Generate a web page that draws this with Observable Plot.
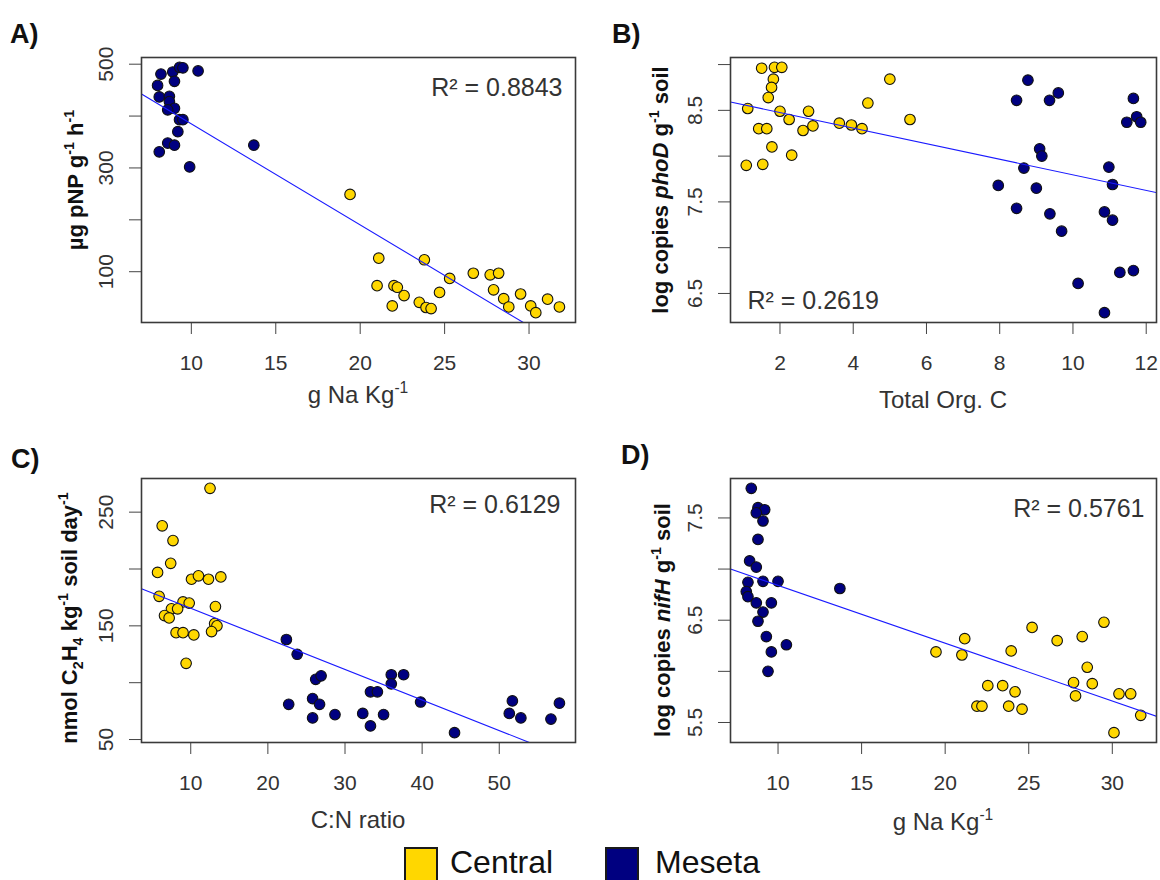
<!DOCTYPE html>
<html>
<head>
<meta charset="utf-8">
<script src="https://cdn.jsdelivr.net/npm/d3@7"></script>
<script src="https://cdn.jsdelivr.net/npm/@observablehq/plot@0.6"></script>
<style>
  body { margin: 0; background: #fff; }
  #wrap { position: relative; width: 1160px; height: 880px; overflow: hidden; background: #fff;
          font-family: "Liberation Sans", Arial, sans-serif; }
  .panel { position: absolute; }
  .swatch { position: absolute; box-sizing: border-box; border: 2px solid #1a1a1a; }
  .legtext { position: absolute; font-size: 32px; line-height: 32px; color: #111; }
</style>
</head>
<body>
<div id="wrap"></div>
<script>
// ---------- groups ----------
const groups = ["Central", "Meseta"];
const groupColors = ["#FFD700", "#000080"];

// ---------- Panel A: g Na Kg-1 vs µg pNP g-1 h-1 ----------
const aCentralX = [19.4, 21.1, 23.8, 25.3, 26.7, 27.7, 28.2, 27.9, 28.5, 28.8, 29.5, 21.0, 22.0, 22.2, 22.6, 21.9, 23.5, 23.9, 24.2, 24.7, 30.1, 30.4, 31.1, 31.8];
const aCentralY = [249, 126, 123, 87, 97, 94, 97, 65, 48, 32, 57, 73, 73, 70, 54, 34, 41, 31, 29, 60, 34, 21, 47, 32];
const aMesetaX = [8.2, 8.9, 9.3, 9.5, 10.4, 9.0, 8.0, 8.1, 8.7, 8.7, 9.0, 8.6, 9.3, 9.5, 9.2, 8.6, 9.0, 8.1, 9.9, 13.7];
const aMesetaY = [481, 485, 494, 493, 487, 467, 459, 437, 438, 428, 415, 412, 393, 393, 370, 348, 344, 331, 302, 344];
const aFit = [579.6, -19.47];   // intercept, slope
const aR2 = "0.8843";

// ---------- Panel B: Total Org. C vs log copies phoD ----------
const bCentralX = [1.5, 1.85, 2.05, 1.82, 1.77, 1.68, 1.12, 2.0, 2.25, 2.78, 1.42, 1.64, 2.63, 2.9, 3.62, 3.95, 4.24, 4.4, 5.0, 5.55, 1.78, 2.32, 1.08, 1.53];
const bCentralY = [8.96, 8.97, 8.97, 8.84, 8.75, 8.64, 8.52, 8.49, 8.40, 8.49, 8.30, 8.30, 8.28, 8.33, 8.36, 8.34, 8.30, 8.58, 8.84, 8.40, 8.10, 8.01, 7.90, 7.91];
const bMesetaX = [8.77, 8.46, 9.36, 9.6, 9.09, 9.15, 8.66, 7.96, 9.0, 8.46, 9.37, 9.69, 10.14, 10.98, 11.08, 10.86, 11.08, 10.86, 11.28, 11.65, 11.47, 11.65, 11.74, 11.85];
const bMesetaY = [8.83, 8.61, 8.61, 8.69, 8.08, 8.0, 7.87, 7.68, 7.65, 7.43, 7.37, 7.18, 6.61, 7.88, 7.69, 7.39, 7.30, 6.29, 6.73, 6.75, 8.37, 8.63, 8.43, 8.37];
const bFit = [8.646, -0.085];
const bR2 = "0.2619";

// ---------- Panel C: C:N ratio vs nmol C2H4 ----------
const cCentralX = [12.5, 6.3, 7.7, 7.4, 5.7, 10.1, 11.0, 12.3, 13.9, 5.9, 9.0, 9.8, 13.2, 7.5, 8.3, 6.6, 7.2, 13.1, 13.4, 8.1, 9.0, 10.4, 12.7, 9.4];
const cCentralY = [271, 238, 225, 205, 197, 191, 194, 191, 193, 176, 171, 170, 167, 165, 165, 159, 157, 152, 150, 144, 144, 142, 145, 117];
const cMesetaX = [22.4, 23.8, 22.7, 26.2, 26.9, 25.8, 26.7, 25.8, 28.7, 32.3, 33.3, 34.2, 33.3, 35.0, 36.0, 36.0, 37.6, 39.8, 44.2, 51.7, 51.3, 52.8, 57.8, 56.7];
const cMesetaY = [138, 125, 81, 103, 106, 86, 81, 69, 72, 73, 92, 92, 62, 72, 107, 99, 107, 83, 56, 84, 73, 69, 82, 68];
const cFit = [192.3, -2.688];
const cR2 = "0.6129";

// ---------- Panel D: g Na Kg-1 vs log copies nifH ----------
const dCentralX = [19.45, 21.17, 21.0, 25.2, 26.7, 28.2, 29.5, 23.95, 28.5, 27.68, 28.8, 27.8, 22.55, 23.44, 24.18, 21.9, 22.2, 23.8, 24.6, 30.4, 31.1, 31.7, 30.1];
const dCentralY = [6.19, 6.32, 6.16, 6.43, 6.30, 6.34, 6.48, 6.20, 6.04, 5.89, 5.88, 5.76, 5.86, 5.86, 5.80, 5.66, 5.66, 5.66, 5.63, 5.78, 5.78, 5.57, 5.40];
const dMesetaX = [8.4, 8.8, 9.2, 8.7, 9.1, 8.8, 8.3, 8.7, 8.2, 9.1, 10.0, 8.1, 8.2, 8.7, 9.6, 9.1, 8.8, 9.3, 10.5, 9.6, 9.4, 13.7];
const dMesetaY = [7.79, 7.60, 7.58, 7.55, 7.47, 7.29, 7.08, 7.02, 6.87, 6.88, 6.88, 6.78, 6.73, 6.67, 6.67, 6.58, 6.49, 6.34, 6.26, 6.19, 6.0, 6.81];
const dFit = [7.405, -0.0565];
const dR2 = "0.5761";

// ---------- tick values ----------
const naTicks = [10, 15, 20, 25, 30];
const tocTicks = [2, 4, 6, 8, 10, 12];
const cnTicks = [10, 20, 30, 40, 50];
const pnpTicks = [100, 200, 300, 400, 500];
const pnpLabels = ["100", "300", "500"];
const phoDTicks = [6.5, 7.0, 7.5, 8.0, 8.5, 9.0];
const phoDLabels = ["6.5", "7.5", "8.5"];
const c2h4Ticks = [50, 100, 150, 200, 250];
const c2h4Labels = ["50", "150", "250"];
const nifHTicks = [5.5, 6.0, 6.5, 7.0, 7.5];
const nifHLabels = ["5.5", "6.5", "7.5"];

const FONT = '"Liberation Sans", Arial, sans-serif';

function padDomain(vals) {
  const [a, b] = d3.extent(vals);
  const p = (b - a) * 0.04;
  return [a - p, b + p];
}

function rich(textSel, parts, size) {
  let shift = 0;
  parts.forEach(p => {
    const target = p.sup ? -0.42 * size : p.sub ? 0.28 * size : 0;
    const t = textSel.append("tspan").text(p.t).attr("dy", target - shift);
    if (p.sup || p.sub) t.attr("font-size", size * 0.65);
    if (p.it) t.attr("font-style", "italic");
    shift = target;
  });
}

function makePanel(cfg) {
  const rows = [];
  groups.forEach((g, i) => {
    cfg.xs[i].forEach((xv, j) => rows.push({group: g, x: xv, y: cfg.ys[i][j]}));
  });
  const xd = padDomain(rows.map(d => d.x));
  const yd = padDomain(rows.map(d => d.y));
  const fitLine = xd.map(x => ({x, y: cfg.fit[0] + cfg.fit[1] * x}));

  const svg = Plot.plot({
    width: 580,
    height: cfg.height,
    marginLeft: cfg.ml, marginRight: cfg.mr, marginTop: cfg.mt, marginBottom: cfg.height - cfg.frameBottom,
    style: {fontFamily: FONT, fontSize: "21px", color: "#333", background: "transparent", overflow: "visible"},
    x: {domain: xd},
    y: {domain: yd},
    color: {domain: groups, range: groupColors},
    marks: [
      Plot.axisX({ticks: cfg.xTicks, tickSize: 12, tickPadding: 21, label: null, stroke: "#444", fill: "#333", fontSize: 21}),
      Plot.axisY({ticks: cfg.yTicks, tickSize: 12, tickFormat: () => "", label: null, stroke: "#444"}),
      Plot.text(cfg.yLabels, {
        y: d => +d, text: d => d, frameAnchor: "left", dx: -29, rotate: -90,
        textAnchor: "middle", lineAnchor: "bottom", fontSize: 21, fill: "#333"
      }),
      Plot.dot(rows, {x: "x", y: "y", fill: "group", r: 5.3, stroke: "#111", strokeWidth: 1.1}),
      Plot.line(fitLine, {x: "x", y: "y", stroke: "#1a1aff", strokeWidth: 1.1, clip: true}),
      Plot.frame({stroke: "#3a3a3a", strokeWidth: 1.6}),
      Plot.text([cfg.r2], {
        frameAnchor: cfg.r2Anchor, dx: cfg.r2dx, dy: cfg.r2dy,
        text: d => "R² = " + d, fontSize: 25, fill: "#333",
        textAnchor: cfg.r2TextAnchor, lineAnchor: "middle"
      })
    ]
  });

  const s = d3.select(svg);
  // panel letter
  s.append("text").attr("x", cfg.letterX).attr("y", cfg.letterY)
    .attr("text-anchor", "start")
    .attr("font-family", FONT).attr("font-weight", "bold").attr("font-size", 27).attr("fill", "#111")
    .text(cfg.letter);
  // x title
  const xt = s.append("text").attr("x", (cfg.ml + 580 - cfg.mr) / 2).attr("y", cfg.xTitleY)
    .attr("text-anchor", "middle").attr("font-family", FONT).attr("font-size", 24).attr("fill", "#333");
  rich(xt, cfg.xTitle, 24);
  // y title
  const yt = s.append("text").attr("transform", `translate(${cfg.yTitleX},${cfg.yTitleC}) rotate(-90)`)
    .attr("text-anchor", "middle").attr("font-family", FONT).attr("font-weight", "bold")
    .attr("font-size", 22).attr("fill", "#111");
  rich(yt, cfg.yTitle, 22);

  const div = document.createElement("div");
  div.className = "panel";
  div.style.left = cfg.left + "px";
  div.style.top = cfg.top + "px";
  div.appendChild(svg);
  document.getElementById("wrap").appendChild(div);
}

const naTitle = [{t: "g Na Kg"}, {t: "-1", sup: true}];

makePanel({
  left: 0, top: 0, height: 440, ml: 141, mr: 5, mt: 57, frameBottom: 322,
  xs: [aCentralX, aMesetaX], ys: [aCentralY, aMesetaY], fit: aFit,
  xTicks: naTicks, yTicks: pnpTicks, yLabels: pnpLabels,
  r2: aR2, r2Anchor: "top-right", r2dx: -13, r2dy: 30, r2TextAnchor: "end",
  letter: "A)", letterX: 10, letterY: 43,
  xTitle: naTitle, xTitleY: 403,
  yTitle: [{t: "µg pNP g"}, {t: "-1", sup: true}, {t: " h"}, {t: "-1", sup: true}], yTitleX: 83, yTitleC: 180
});

makePanel({
  left: 580, top: 0, height: 440, ml: 150, mr: 4, mt: 57, frameBottom: 322,
  xs: [bCentralX, bMesetaX], ys: [bCentralY, bMesetaY], fit: bFit,
  xTicks: tocTicks, yTicks: phoDTicks, yLabels: phoDLabels,
  r2: bR2, r2Anchor: "bottom-left", r2dx: 17, r2dy: -22, r2TextAnchor: "start",
  letter: "B)", letterX: 32, letterY: 43,
  xTitle: [{t: "Total Org. C"}], xTitleY: 408,
  yTitle: [{t: "log copies "}, {t: "phoD", it: true}, {t: " g"}, {t: "-1", sup: true}, {t: " soil"}], yTitleX: 88, yTitleC: 190
});

makePanel({
  left: 0, top: 440, height: 400, ml: 141, mr: 5, mt: 38, frameBottom: 302,
  xs: [cCentralX, cMesetaX], ys: [cCentralY, cMesetaY], fit: cFit,
  xTicks: cnTicks, yTicks: c2h4Ticks, yLabels: c2h4Labels,
  r2: cR2, r2Anchor: "top-right", r2dx: -15, r2dy: 26, r2TextAnchor: "end",
  letter: "C)", letterX: 11, letterY: 28,
  xTitle: [{t: "C:N ratio"}], xTitleY: 388,
  yTitle: [{t: "nmol C"}, {t: "2", sub: true}, {t: "H"}, {t: "4", sub: true}, {t: " kg"}, {t: "-1", sup: true}, {t: " soil day"}, {t: "-1", sup: true}],
  yTitleX: 77, yTitleC: 178
});

makePanel({
  left: 580, top: 440, height: 400, ml: 150, mr: 4, mt: 38, frameBottom: 302,
  xs: [dCentralX, dMesetaX], ys: [dCentralY, dMesetaY], fit: dFit,
  xTicks: naTicks, yTicks: nifHTicks, yLabels: nifHLabels,
  r2: dR2, r2Anchor: "top-right", r2dx: -12, r2dy: 30, r2TextAnchor: "end",
  letter: "D)", letterX: 41, letterY: 24,
  xTitle: naTitle, xTitleY: 390,
  yTitle: [{t: "log copies "}, {t: "nifH", it: true}, {t: " g"}, {t: "-1", sup: true}, {t: " soil"}], yTitleX: 90, yTitleC: 180
});

// ---------- legend ----------
const legendSwatchX = [404, 605];
const legendTextX = [450, 655];
const wrap = document.getElementById("wrap");
groups.forEach((g, i) => {
  const sw = document.createElement("div");
  sw.className = "swatch";
  sw.style.left = legendSwatchX[i] + "px";
  sw.style.top = "847px";
  sw.style.width = "34px";
  sw.style.height = "40px";
  sw.style.background = groupColors[i];
  wrap.appendChild(sw);
  const tx = document.createElement("div");
  tx.className = "legtext";
  tx.style.left = legendTextX[i] + "px";
  tx.style.top = "846px";
  tx.textContent = g;
  wrap.appendChild(tx);
});
</script>
</body>
</html>
